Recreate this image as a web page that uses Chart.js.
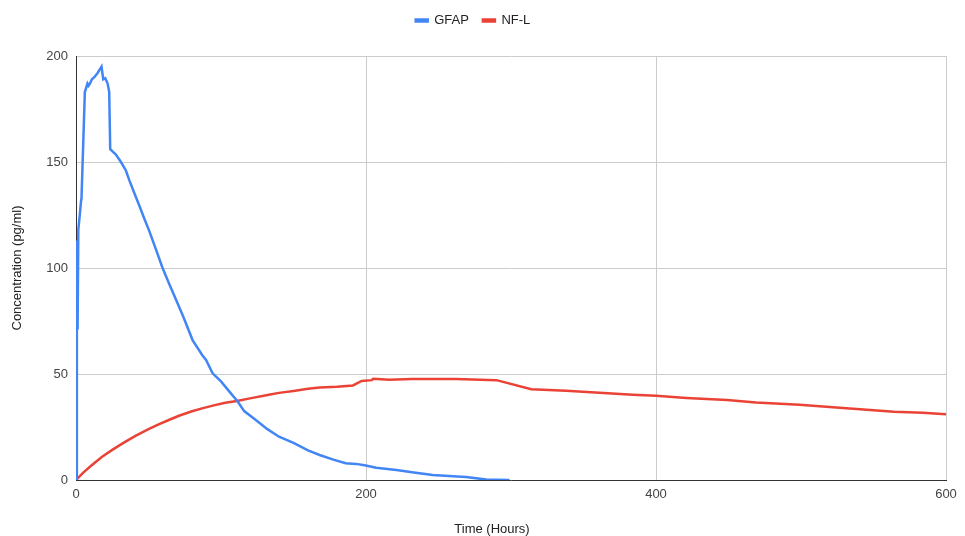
<!DOCTYPE html>
<html>
<head>
<meta charset="utf-8">
<script src="https://cdn.jsdelivr.net/npm/chart.js@4/dist/chart.umd.min.js"></script>
<style>
  html, body { margin: 0; padding: 0; background: #fff; }
  #wrap { width: 965px; height: 536px; }
</style>
</head>
<body>
<div id="wrap"><canvas id="chart" width="965" height="536"></canvas></div>
<script>
// GFAP readings (hours, pg/ml)
const gfapHours = [0, 0.6, 1.1, 1.6, 2.6, 3.4, 3.8, 6.1, 7.9, 8.6, 9.6, 11, 12.6, 14.9, 17.6, 18.8, 20.2, 21.8, 22.9, 23.6,
  27.5, 31, 34.4, 37, 40.4, 43.9, 47, 50.5, 55, 59.7, 64.6, 69, 74, 80.4, 87, 89.7, 94.2, 100, 105.8, 111.5,
  116, 124, 132, 140, 150, 160, 168, 178, 186, 193, 199, 207, 221, 233, 246, 260, 269, 283, 299];
const gfapValues = [0, 113, 71, 118, 125, 131, 133, 183, 187, 186, 187, 189, 190, 192, 195, 189, 189.5, 187, 183, 156,
  153.5, 150, 146, 141, 135, 129, 123.5, 117.5, 109, 100, 92, 85, 77, 66, 59, 56.6, 50.3, 46.5, 41.7, 37,
  32.5, 28.3, 24, 20.4, 17.5, 14, 11.8, 9.5, 7.9, 7.6, 7, 5.8, 4.7, 3.5, 2.4, 1.8, 1.4, 0.2, 0];

// NF-L readings (hours, pg/ml)
const nflHours = [0, 5, 10, 18, 25, 33, 41, 50, 57, 64, 71, 80, 87, 95, 103, 111, 120, 133, 140, 150,
  160, 168, 180, 191, 197, 204, 205, 216, 232, 262, 290, 314, 338, 361, 384, 400, 421, 449, 469, 499,
  522, 543, 564, 584, 600];
const nflValues = [0, 3.5, 6.5, 11, 14.2, 17.6, 20.8, 24, 26.2, 28.3, 30.3, 32.4, 33.8, 35.2, 36.4, 37.3, 38.5, 40.2, 41.1, 42,
  43, 43.6, 44, 44.6, 46.7, 47.1, 47.8, 47.3, 47.6, 47.6, 47.1, 42.8, 42.1, 41.2, 40.2, 39.7, 38.7, 37.7, 36.6, 35.5,
  34.3, 33.2, 32.2, 31.7, 31];

const xTicks = [0, 200, 400, 600];
const yTicks = [0, 50, 100, 150, 200];

const toPoints = (xs, ys) => xs.map((x, i) => ({ x: x, y: ys[i] }));

const FONT = "'Liberation Sans', Arial, sans-serif";

// push the plot area down below the legend
const legendGap = {
  id: 'legendGap',
  beforeInit(chart) {
    const fit = chart.legend.fit;
    chart.legend.fit = function () {
      fit.call(this);
      this.height += 19;
    };
  }
};

// x axis title sits a little left of the plot centre
const xTitle = {
  id: 'xTitle',
  afterDraw(chart) {
    const ctx = chart.ctx;
    ctx.save();
    ctx.font = "13px " + FONT;
    ctx.fillStyle = '#222';
    ctx.textAlign = 'center';
    ctx.textBaseline = 'middle';
    ctx.fillText('Time (Hours)', 492, 529);
    ctx.restore();
  }
};

new Chart(document.getElementById('chart'), {
  type: 'line',
  data: {
    datasets: [
      {
        label: 'GFAP',
        data: toPoints(gfapHours, gfapValues),
        borderColor: '#4285F4',
        backgroundColor: '#4285F4',
        borderWidth: 2.5,
        pointRadius: 0,
        tension: 0
      },
      {
        label: 'NF-L',
        data: toPoints(nflHours, nflValues),
        borderColor: '#EA4335',
        backgroundColor: '#EA4335',
        borderWidth: 2.5,
        pointRadius: 0,
        tension: 0
      }
    ]
  },
  options: {
    responsive: false,
    animation: false,
    layout: { padding: { top: 0, right: 19, bottom: 0, left: 0 } },
    plugins: {
      legend: {
        position: 'top',
        labels: {
          boxWidth: 12,
          boxHeight: 2,
          padding: 14,
          color: '#222',
          font: { family: FONT, size: 13 }
        }
      },
      tooltip: { enabled: false }
    },
    scales: {
      x: {
        type: 'linear',
        min: 0,
        max: 600,
        afterBuildTicks: (s) => { s.ticks = xTicks.map(v => ({ value: v })); },
        afterFit: (s) => { s.height = 56; },
        grid: { color: '#cccccc', drawTicks: false },
        border: { color: '#333333', width: 1 },
        ticks: { padding: 7, color: '#444', font: { family: FONT, size: 13 } },
        title: { display: false }
      },
      y: {
        min: 0,
        max: 200,
        afterBuildTicks: (s) => { s.ticks = yTicks.map(v => ({ value: v })); },
        afterFit: (s) => { s.width = 76; },
        grid: { color: '#cccccc', drawTicks: false },
        border: { color: '#333333', width: 1 },
        ticks: { padding: 8, color: '#444', font: { family: FONT, size: 13 } },
        title: {
          display: true,
          text: 'Concentration (pg/ml)',
          color: '#222',
          padding: { top: 10, bottom: 0 },
          font: { family: FONT, size: 13 }
        }
      }
    }
  },
  plugins: [legendGap, xTitle]
});
</script>
</body>
</html>
